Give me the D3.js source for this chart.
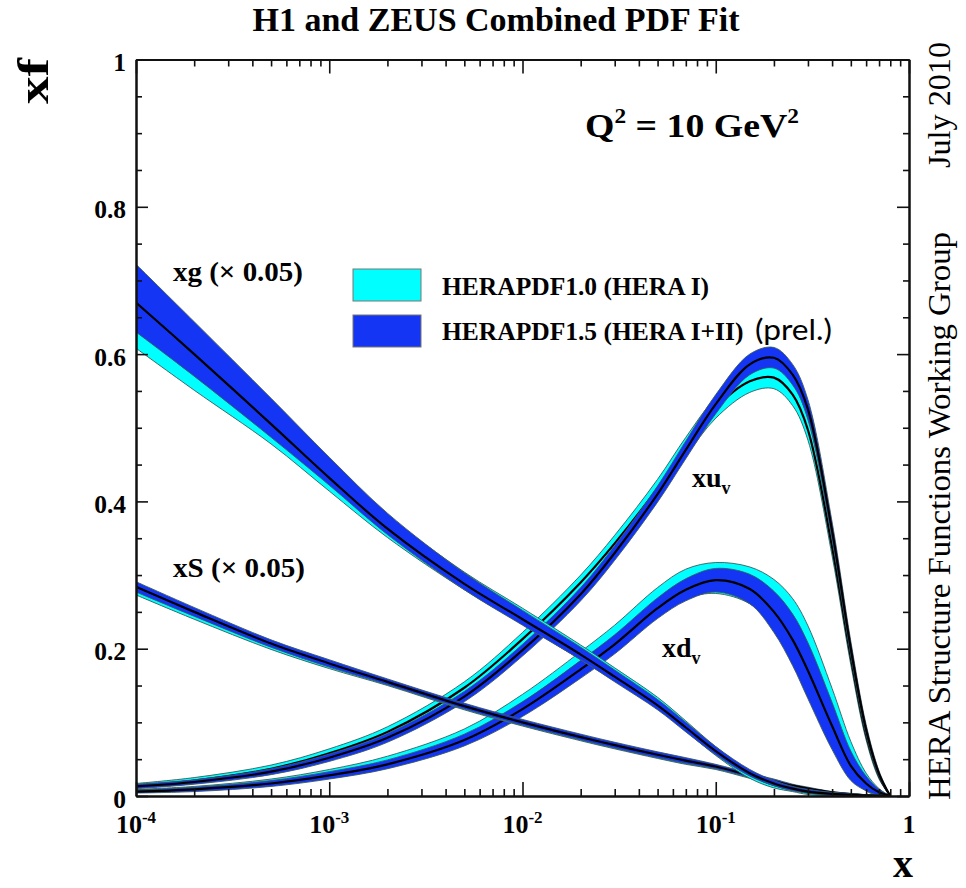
<!DOCTYPE html>
<html><head><meta charset="utf-8">
<script src="https://cdn.jsdelivr.net/npm/d3@7"></script>
<style>body{margin:0;background:#fff}svg{display:block}</style>
</head><body>
<svg id="c" width="966" height="888"></svg>
<script>
// ---------- data (values as plotted; xg and xS already scaled by 0.05) ----------
const xGrid = [1e-4,2e-4,5e-4,1e-3,2e-3,5e-3,0.01,0.02,0.03,0.05,0.07,0.1,0.15,0.2,0.25,0.3,0.4,0.5,0.6,0.7,0.8];

// HERAPDF1.5 (HERA I+II) – blue
const xuvBlue    = [0.013,0.019,0.033,0.052,0.079,0.135,0.198,0.274,0.330,0.410,0.470,0.532,0.586,0.595,0.572,0.525,0.360,0.200,0.090,0.030,0.0];
const xuvBlueErr = [0.003,0.003,0.004,0.005,0.006,0.007,0.008,0.009,0.010,0.011,0.012,0.013,0.014,0.014,0.014,0.013,0.012,0.010,0.007,0.004,0.0];
const xdvBlue    = [0.006,0.009,0.017,0.028,0.043,0.076,0.118,0.172,0.206,0.255,0.280,0.293,0.281,0.250,0.212,0.170,0.095,0.041,0.017,0.005,0.0];
const xdvBlueErr = [0.002,0.003,0.004,0.005,0.006,0.008,0.010,0.012,0.013,0.014,0.015,0.016,0.020,0.028,0.035,0.038,0.032,0.020,0.010,0.004,0.0];
const xSBlue     = [0.284,0.250,0.207,0.180,0.155,0.122,0.100,0.080,0.069,0.056,0.048,0.040,0.028,0.020,0.014,0.010,0.005,0.0025,0.001,0.0004,0.0];
const xSBlueErr  = [0.007,0.006,0.005,0.005,0.004,0.004,0.004,0.004,0.004,0.004,0.004,0.003,0.003,0.003,0.002,0.002,0.001,0.001,0.0005,0.0002,0.0];
const xgBlue     = [0.670,0.600,0.505,0.432,0.363,0.288,0.240,0.192,0.162,0.123,0.093,0.061,0.031,0.017,0.010,0.006,0.003,0.0015,0.0008,0.0003,0.0];
const xgBlueUp   = [0.052,0.044,0.035,0.028,0.021,0.015,0.012,0.010,0.009,0.008,0.007,0.006,0.005,0.004,0.003,0.003,0.002,0.002,0.001,0.001,0.0];
const xgBlueDn   = [0.040,0.030,0.018,0.010,0.008,0.008,0.008,0.007,0.007,0.006,0.006,0.005,0.004,0.003,0.003,0.002,0.002,0.001,0.001,0.001,0.0];

// HERAPDF1.0 (HERA I) – cyan
const xuvCyan    = [0.014,0.021,0.037,0.058,0.087,0.147,0.213,0.290,0.343,0.418,0.474,0.527,0.563,0.568,0.545,0.497,0.338,0.188,0.083,0.027,0.0];
const xuvCyanErr = [0.003,0.004,0.005,0.006,0.007,0.008,0.009,0.010,0.011,0.012,0.013,0.014,0.015,0.015,0.015,0.014,0.012,0.010,0.007,0.004,0.0];
const xdvCyan    = [0.007,0.010,0.019,0.030,0.046,0.081,0.126,0.182,0.216,0.265,0.288,0.296,0.286,0.262,0.228,0.186,0.108,0.050,0.019,0.005,0.0];
const xdvCyanErr = [0.002,0.003,0.004,0.006,0.008,0.010,0.012,0.014,0.016,0.018,0.020,0.021,0.025,0.032,0.040,0.045,0.038,0.024,0.012,0.005,0.0];
const xSCyan     = [0.280,0.246,0.204,0.178,0.154,0.121,0.099,0.079,0.068,0.055,0.047,0.039,0.027,0.019,0.013,0.009,0.004,0.002,0.001,0.0003,0.0];
const xSCyanErr  = [0.007,0.006,0.005,0.005,0.004,0.004,0.004,0.004,0.004,0.004,0.004,0.003,0.003,0.003,0.002,0.002,0.001,0.001,0.0005,0.0002,0.0];
const xgCyan     = [0.640,0.578,0.500,0.432,0.366,0.292,0.244,0.195,0.165,0.126,0.095,0.061,0.029,0.015,0.009,0.005,0.0025,0.0012,0.0006,0.0002,0.0];
const xgCyanErr  = [0.032,0.027,0.022,0.018,0.015,0.012,0.011,0.010,0.009,0.008,0.007,0.006,0.005,0.004,0.003,0.003,0.002,0.001,0.001,0.001,0.0];

// axes
const yMajor = [0,0.2,0.4,0.6,0.8,1];
const yTickLabels = ["0","0.2","0.4","0.6","0.8","1"];
const xMajor = [1e-4,1e-3,1e-2,1e-1,1];
const xTickBase = ["10","10","10","10","1"];
const xTickExp  = ["-4","-3","-2","-1",""];

const legendLabels = ["HERAPDF1.0 (HERA I)","HERAPDF1.5 (HERA I+II)"];
const colCyan = "#00ffff", colBlue = "#1436f4";

// ---------- drawing ----------
const svg = d3.select("#c");
const L=136, R=909, T=59.5, B=796;
const x = d3.scaleLog().domain([1e-4,1]).range([L,R]);
const y = d3.scaleLinear().domain([0,1]).range([B,T]);
const serif = "'Liberation Serif','Times New Roman',serif";
const curve = d3.curveCatmullRom.alpha(0.5);

svg.append("defs").append("clipPath").attr("id","pc")
  .append("rect").attr("x",L).attr("y",T).attr("width",R-L).attr("height",B-T);
const plot = svg.append("g").attr("clip-path","url(#pc)");

function band(center, up, dn, color){
  const area = d3.area().curve(curve)
    .x((d,i)=>x(xGrid[i]))
    .y0((d,i)=>y(Math.max(0,center[i]-dn[i])))
    .y1((d,i)=>y(center[i]+up[i]));
  plot.append("path").datum(center).attr("d",area)
    .attr("fill",color).attr("stroke","#3d5a5a").attr("stroke-width",0.9);
  const line = d3.line().curve(curve)
    .x((d,i)=>x(xGrid[i])).y(d=>y(d));
  plot.append("path").datum(center).attr("d",line)
    .attr("fill","none").attr("stroke","#000").attr("stroke-width",2.2);
}
const pdfs = [
  [xuvCyan,xuvCyanErr,xuvCyanErr, xuvBlue,xuvBlueErr,xuvBlueErr],
  [xdvCyan,xdvCyanErr,xdvCyanErr, xdvBlue,xdvBlueErr,xdvBlueErr],
  [xSCyan,xSCyanErr,xSCyanErr, xSBlue,xSBlueErr,xSBlueErr],
  [xgCyan,xgCyanErr,xgCyanErr, xgBlue,xgBlueUp,xgBlueDn]
];
pdfs.forEach(p=>{ band(p[0],p[1],p[2],colCyan); band(p[3],p[4],p[5],colBlue); });

// axes with inward ticks on all four sides
const xMinor=[]; for(let e=-4;e<0;e++) for(let m=2;m<=9;m++) xMinor.push(m*Math.pow(10,e));
const yMinor=d3.range(0,1.0001,0.05).filter(v=>Math.abs(v*5-Math.round(v*5))>1e-6);
function styleAxis(g){ g.selectAll("path.domain").attr("stroke","#111").attr("stroke-width",2);
  g.selectAll(".tick line").attr("stroke","#111").attr("stroke-width",1.6); g.selectAll("text").remove(); }
svg.append("g").attr("transform",`translate(0,${B})`).call(d3.axisBottom(x).tickValues(xMajor).tickSize(-14).tickSizeOuter(0)).call(styleAxis);
svg.append("g").attr("transform",`translate(0,${B})`).call(d3.axisBottom(x).tickValues(xMinor).tickSize(-7).tickSizeOuter(0)).call(styleAxis);
svg.append("g").attr("transform",`translate(0,${T})`).call(d3.axisTop(x).tickValues(xMajor).tickSize(-14).tickSizeOuter(0)).call(styleAxis);
svg.append("g").attr("transform",`translate(0,${T})`).call(d3.axisTop(x).tickValues(xMinor).tickSize(-7).tickSizeOuter(0)).call(styleAxis);
svg.append("g").attr("transform",`translate(${L},0)`).call(d3.axisLeft(y).tickValues(yMajor).tickSize(-12).tickSizeOuter(0)).call(styleAxis);
svg.append("g").attr("transform",`translate(${L},0)`).call(d3.axisLeft(y).tickValues(yMinor).tickSize(-6).tickSizeOuter(0)).call(styleAxis);
svg.append("g").attr("transform",`translate(${R},0)`).call(d3.axisRight(y).tickValues(yMajor).tickSize(-12).tickSizeOuter(0)).call(styleAxis);
svg.append("g").attr("transform",`translate(${R},0)`).call(d3.axisRight(y).tickValues(yMinor).tickSize(-6).tickSizeOuter(0)).call(styleAxis);

// tick labels
svg.append("g").selectAll("text").data(yMajor).join("text")
  .attr("x",126).attr("y",d=>y(d)+11.5).attr("text-anchor","end")
  .attr("font-family",serif).attr("font-weight","bold").attr("font-size",25.5)
  .text((d,i)=>yTickLabels[i]);
const xl = svg.append("g").selectAll("text").data(xMajor).join("text")
  .attr("x",d=>x(d)).attr("y",833).attr("text-anchor","middle")
  .attr("font-family",serif).attr("font-weight","bold").attr("font-size",26);
xl.append("tspan").text((d,i)=>xTickBase[i]);
xl.append("tspan").attr("dy",-10).attr("font-size",17).text((d,i)=>xTickExp[i]);

function txt(t,xx,yy,opt){
  const e=svg.append("text").attr("x",xx).attr("y",yy).text(t)
    .attr("font-family",opt.ff||serif).attr("font-weight",opt.fw||"bold")
    .attr("font-size",opt.fs).attr("text-anchor",opt.anchor||"start");
  if(opt.tl) e.attr("textLength",opt.tl).attr("lengthAdjust","spacingAndGlyphs");
  if(opt.tr) e.attr("transform",opt.tr);
  return e;
}
// title
txt("H1 and ZEUS Combined PDF Fit",496,31,{fs:34,anchor:"middle",tl:487});
// axis titles
txt("x",913,877,{fs:40,anchor:"end"});
svg.append("text").attr("transform","translate(48,58) rotate(-90)").attr("text-anchor","end")
  .attr("font-family",serif).attr("font-weight","bold").attr("font-size",44)
  .attr("textLength",46).attr("lengthAdjust","spacingAndGlyphs").text("xf");
// right side texts
svg.append("text").attr("transform","translate(950,168) rotate(-90)")
  .attr("font-family",serif).attr("font-size",31).attr("textLength",126).attr("lengthAdjust","spacingAndGlyphs").text("July 2010");
svg.append("text").attr("transform","translate(950,800) rotate(-90)")
  .attr("font-family",serif).attr("font-size",31).attr("textLength",568).attr("lengthAdjust","spacingAndGlyphs").text("HERA Structure Functions Working Group");
// Q2 label
const q = txt("",585,137,{fs:34});
q.append("tspan").text("Q");
q.append("tspan").attr("dy",-14).attr("font-size",21).text("2");
q.append("tspan").attr("dy",14).text(" = 10 GeV");
q.append("tspan").attr("dy",-14).attr("font-size",21).text("2");
q.attr("textLength",214).attr("lengthAdjust","spacingAndGlyphs");

// legend
const legCols=[colCyan,colBlue];
svg.append("g").selectAll("rect").data(legendLabels).join("rect")
  .attr("x",353).attr("y",(d,i)=>269+i*46).attr("width",68).attr("height",32)
  .attr("fill",(d,i)=>legCols[i]).attr("stroke","#777").attr("stroke-width",1);
svg.append("g").selectAll("text").data(legendLabels).join("text")
  .attr("x",442).attr("y",(d,i)=>295+i*45).attr("font-family",serif).attr("font-weight","bold")
  .attr("font-size",25.5).text(d=>d);
txt("(prel.)",755,340,{fs:28,fw:"normal",ff:"Lato,'Open Sans',sans-serif",tl:77});

// curve labels
txt("xg (\u00d7 0.05)",173,281,{fs:27,tl:130});
txt("xS (\u00d7 0.05)",173,577,{fs:27,tl:132});
const u=txt("xu",692,487,{fs:28}); u.append("tspan").attr("dy",7).attr("font-size",18).text("v");
const dv=txt("xd",662,657,{fs:28}); dv.append("tspan").attr("dy",7).attr("font-size",18).text("v");
</script>
</body></html>
